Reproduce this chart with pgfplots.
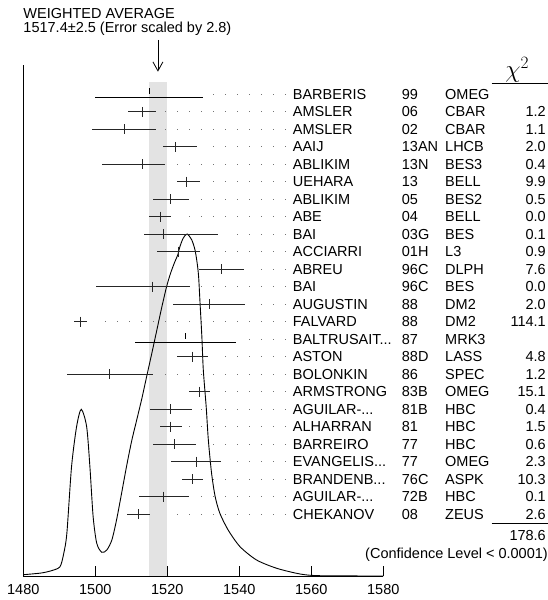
\documentclass[border=0pt]{standalone}
\usepackage{fontspec}
\setmainfont{Liberation Sans}
\usepackage{pgfplots}
\pgfplotsset{compat=1.18}
\usetikzlibrary{arrows.meta}
\newcommand\dd{...}

\begin{document}
\fontsize{14.5}{17}\selectfont
\begin{tikzpicture}
\begin{axis}[
  at={(0pt,0pt)}, anchor=south west,
  scale only axis, width=360pt, height=511pt,
  xmin=1480, xmax=1580, ymin=0, ymax=511,
  axis x line*=bottom, axis y line*=left,
  axis line style={line width=1pt, black},
  xtick={1480,1500,...,1580}, ytick=\empty,
  tick align=inside, major tick length=10pt,
  tick style={line width=1pt, black},
  /pgf/number format/1000 sep={},
  /pgf/number format/assume math mode=true,
  xticklabel style={font=\fontsize{14.5}{17}\selectfont, yshift=-3pt},
  clip=false,
  unbounded coords=jump,
]
% weighted average band
\addplot[fill=black!11, draw=none] coordinates {(1514.9,0) (1514.9,494.3) (1519.9,494.3) (1519.9,0)} -- cycle;
% arrow
\addplot[-{Straight Barb[length=9pt,width=10pt]}, line width=0.8pt] coordinates {(1517.4,536) (1517.4,504.3)};
% leaders
\addplot[black!55, line width=1pt, dash pattern=on 1pt off 11pt] coordinates {
(1532.78,481.7) (1553.1,481.7) (nan,nan)
(1519.44,464.2) (1553.1,464.2) (nan,nan)
(1519.44,446.7) (1553.1,446.7) (nan,nan)
(1532.78,429.2) (1553.1,429.2) (nan,nan)
(1522.78,411.7) (1553.1,411.7) (nan,nan)
(1532.78,394.3) (1553.1,394.3) (nan,nan)
(1529.44,376.8) (1553.1,376.8) (nan,nan)
(1526.11,359.3) (1553.1,359.3) (nan,nan)
(1539.44,341.8) (1553.1,341.8) (nan,nan)
(1532.78,324.3) (1553.1,324.3) (nan,nan)
(1546.11,306.8) (1553.1,306.8) (nan,nan)
(1529.44,289.3) (1553.1,289.3) (nan,nan)
(1546.11,271.8) (1553.1,271.8) (nan,nan)
(1502.78,254.3) (1553.1,254.3) (nan,nan)
(1542.78,236.8) (1553.1,236.8) (nan,nan)
(1536.11,219.4) (1553.1,219.4) (nan,nan)
(1519.44,201.9) (1553.1,201.9) (nan,nan)
(1536.11,184.4) (1553.1,184.4) (nan,nan)
(1529.44,166.9) (1553.1,166.9) (nan,nan)
(1526.11,149.4) (1553.1,149.4) (nan,nan)
(1532.78,131.9) (1553.1,131.9) (nan,nan)
(1539.44,114.4) (1553.1,114.4) (nan,nan)
(1532.78,96.9) (1553.1,96.9) (nan,nan)
(1529.44,79.4) (1553.1,79.4) (nan,nan)
(1522.78,61.9) (1553.1,61.9)
};
% ideogram curve
\addplot[smooth, tension=0.45, line width=0.9pt, black] coordinates {
(1480,1.3) (1485,3) (1488,5.5) (1490.2,9.3) (1491.2,22) (1492.1,42.7) (1493.4,109.3)
(1494.8,149.3) (1496.1,166.7) (1497.6,149.3) (1498.5,109.3) (1499.4,59.3) (1500.4,32.7)
(1501.8,23.7) (1503.2,26) (1504.6,36) (1505.9,56) (1507.3,82.7) (1508.7,110) (1510.1,135)
(1511.5,156) (1512.9,177) (1514.3,200) (1515.7,222.7) (1517.1,246) (1518.4,267.7)
(1519.8,289.3) (1520.9,302.7) (1522.1,314.3) (1522.9,321) (1523.5,329.3) (1524.4,337.7)
(1525.5,342) (1526.8,336) (1527.7,326) (1528.3,312.7) (1528.7,299.3) (1529.1,272.7)
(1529.6,239.3) (1530.0,206) (1530.8,169.3) (1531.4,136) (1532.3,102.7) (1533.3,79.3)
(1534.6,62.7) (1536.9,46) (1540.2,29.3) (1544.8,16) (1550.4,7.7) (1556.9,2) (1562.4,0.3) (1580,0)
};
% measurements used in the fit
\addplot[only marks, mark=|, mark size=5pt, black!85, mark options={line width=1pt},
  error bars/.cd, x dir=both, x explicit, error mark=none,
  error bar style={line width=1pt, black!85}] coordinates {
(1513.0,464.2) += (3.9,0) -= (3.9,0)
(1508.0,446.7) += (8.9,0) -= (8.9,0)
(1522.2,429.2) += (6.0,0) -= (3.4,0)
(1513.0,411.7) += (6.3,0) -= (11.1,0)
(1525.3,394.3) += (3.8,0) -= (2.6,0)
(1521.0,376.8) += (5.0,0) -= (5.0,0)
(1518.0,359.3) += (3.1,0) -= (3.1,0)
(1519.0,341.8) += (15.0,0) -= (5.4,0)
(1523.0,324.3) += (6.0,0) -= (6.0,0)
(1535.0,306.8) += (6.3,0) -= (6.2,0)
(1516.0,289.3) += (10.3,0) -= (15.7,0)
(1531.6,271.8) += (10.0,0) -= (10.0,0)
(1495.8,254.3) += (1.8,0) -= (1.8,0)
(1527.0,219.4) += (4.2,0) -= (4.2,0)
(1504.0,201.9) += (12.0,0) -= (12.0,0)
(1529.0,184.4) += (2.9,0) -= (2.9,0)
(1521.0,166.9) += (5.9,0) -= (5.9,0)
(1521.0,149.4) += (3.0,0) -= (3.0,0)
(1522.0,131.9) += (5.9,0) -= (5.9,0)
(1528.0,114.4) += (7.0,0) -= (7.0,0)
(1527.0,96.9) += (2.9,0) -= (2.9,0)
(1519.0,79.4) += (7.0,0) -= (7.0,0)
(1512.0,61.9) += (3.1,0) -= (3.1,0)
};
% measurements not used in the fit
\addplot[only marks, mark=|, mark size=3pt, black, mark options={line width=1pt, yshift=3pt},
  error bars/.cd, x dir=both, x explicit, error mark=none,
  error bar style={line width=1pt, black, yshift=-3pt}] coordinates {
(1515.0,481.7) += (15.0,0) -= (15.0,0)
(1525.0,236.8) += (14.1,0) -= (14.1,0)
};
\end{axis}
% titles
\node[anchor=west, inner sep=0pt] at (0pt,562.7pt) {WEIGHTED AVERAGE};
\node[anchor=west, inner sep=0pt] at (0pt,547.2pt) {1517.4±2.5 (Error scaled by 2.8)};
% chi2 header
\node[inner sep=0pt] at (494pt,506pt) {\fontsize{24}{24}\selectfont$\chi^{2}$};
\draw[line width=0.9pt] (468.4pt,492.7pt) -- (524.7pt,492.7pt);
% rows
\foreach [count=\i from 0] \n/\yr/\e/\c in {
BARBERIS/99/OMEG/{},
AMSLER/06/CBAR/1.2,
AMSLER/02/CBAR/1.1,
AAIJ/13AN/LHCB/2.0,
ABLIKIM/13N/BES3/0.4,
UEHARA/13/BELL/9.9,
ABLIKIM/05/BES2/0.5,
ABE/04/BELL/0.0,
BAI/03G/BES/0.1,
ACCIARRI/01H/L3/0.9,
ABREU/96C/DLPH/7.6,
BAI/96C/BES/0.0,
AUGUSTIN/88/DM2/2.0,
FALVARD/88/DM2/114.1,
BALTRUSAIT\dd/87/MRK3/{},
ASTON/88D/LASS/4.8,
BOLONKIN/86/SPEC/1.2,
ARMSTRONG/83B/OMEG/15.1,
AGUILAR-\dd/81B/HBC/0.4,
ALHARRAN/81/HBC/1.5,
BARREIRO/77/HBC/0.6,
EVANGELIS\dd/77/OMEG/2.3,
BRANDENB\dd/76C/ASPK/10.3,
AGUILAR-\dd/72B/HBC/0.1,
CHEKANOV/08/ZEUS/2.6}{
  \pgfmathsetmacro\yy{481.7-17.49*\i-5.2}
  \node[anchor=base west, inner sep=0pt] at (269.4pt,\yy pt) {\n};
  \node[anchor=base west, inner sep=0pt] at (378.4pt,\yy pt) {\yr};
  \node[anchor=base west, inner sep=0pt] at (421.7pt,\yy pt) {\e};
  \node[anchor=base east, inner sep=0pt] at (522.7pt,\yy pt) {\c};
}
\draw[line width=0.9pt] (468.4pt,52.7pt) -- (524.7pt,52.7pt);
\node[anchor=base east, inner sep=0pt] at (522.7pt,35.8pt) {178.6};
\node[anchor=base east, inner sep=0pt] at (524.7pt,17.5pt) {(Confidence Level < 0.0001)};
\pgfresetboundingbox
\path[use as bounding box] (-23.3pt,-24pt) rectangle (524.7pt,576pt);
\end{tikzpicture}
\end{document}
